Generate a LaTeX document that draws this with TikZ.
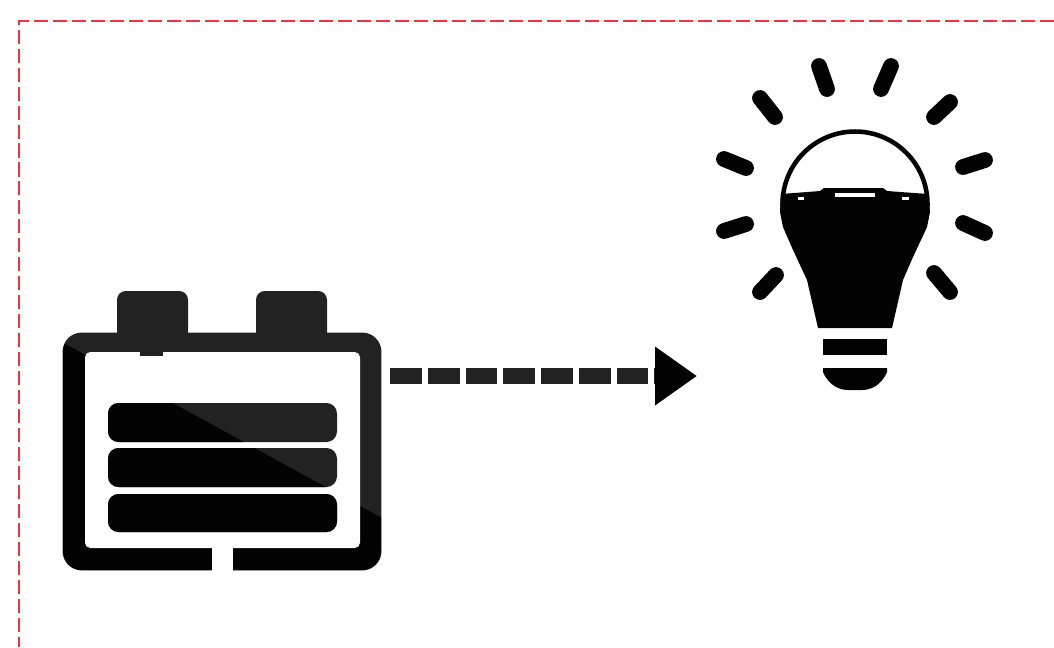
\documentclass[tikz,border=0pt]{standalone}
\usepackage{xcolor}
\usetikzlibrary{
  arrows.meta,
  positioning
}
\definecolor{inkblack}{RGB}{3,3,3}
\definecolor{inkgrey}{RGB}{34,34,34}
\definecolor{framered}{RGB}{240,50,65}

\begin{document}
\begin{tikzpicture}[
  x=0.02cm, y=-0.02cm,
  framebox/.style={draw=framered, line width=1.6pt, dash pattern=on 8pt off 2.8pt},
  battbody/.style={
    rectangle, rounded corners=11pt, fill=inkgrey,
    minimum width=6.38cm, minimum height=4.76cm, inner sep=0pt, outer sep=0pt
  },
  cellbar/.style={rounded corners=6pt},
  rayline/.style={line width=9pt, line cap=round, draw=inkblack},
  flowline/.style={
    draw=inkgrey, line width=9pt, dash pattern=on 18.1pt off 3.4pt,
    -{Triangle[length=0.84cm, width=1.12cm, inkblack]}
  }
]
  \useasboundingbox (0,0) rectangle (1054,647);

  % Outer frame
  \draw[framebox] (1054,21) -- (19,21) -- (19,647);

  % Battery
  \fill[inkgrey, rounded corners=5pt] (117,345) |- (188,291) |- cycle;
  \fill[inkgrey, rounded corners=5pt] (256,345) |- (327,291) |- cycle;
  \node[battbody] (batt) at (222,451.5) {};
  % Darker part below the gloss line
  \begin{scope}
    \clip (60,341) -- (382,518) -- (382,575) -- (60,575) -- cycle;
    \fill[inkblack, rounded corners=11pt] (63,333) rectangle (381,570);
  \end{scope}
  \fill[white, rounded corners=3pt] (85,352) rectangle (360,548);
  \fill[inkgrey] (140,350) rectangle (163,356);
  \foreach \top/\bot in {403/442, 448/487, 494/532}{
    \fill[inkgrey, cellbar] (108,\top) rectangle (337,\bot);
  }
  \begin{scope}
    \clip (60,341) -- (382,518) -- (382,575) -- (60,575) -- cycle;
    \foreach \top/\bot in {403/442, 448/487, 494/532}{
      \fill[inkblack, cellbar] (108,\top) rectangle (337,\bot);
    }
  \end{scope}
  \fill[white] (212,540) rectangle (233,575);

  % Bulb
  \node[circle, draw=inkblack, line width=2.6pt, minimum size=2.9cm, inner sep=0pt]
    (bulb) at (855,204) {};
  \fill[inkblack]
    (781,194) -- (820,191) -- (824,188) -- (883,188) -- (887,191) -- (928,194)
    -- (930,212) -- (927,227) -- (913,257) -- (903,280) -- (892,328)
    -- (818,328) -- (807,280) -- (793,250) -- (783,227) -- (780,212) -- cycle;
  \fill[white] (835,193) rectangle (875,197);
  \fill[white] (798,197) rectangle (804,200);
  \fill[white] (902,197) rectangle (909,200);
  \fill[inkblack] (823,339) rectangle (887,355);
  \fill[inkblack] (823,368) -- (887,368) -- (887,372)
    .. controls (881,386) and (870,390) .. (862,390)
    -- (848,390) .. controls (840,390) and (829,386) .. (823,372) -- cycle;

  % Rays around the bulb
  \foreach \xa/\ya/\xb/\yb in {
    819/66/827/89,
    891/66/881/89,
    950/102/934/117,
    760/98/775/117,
    724/159/746/168,
    985/160/963/167,
    724/231/746/224,
    985/233/963/223,
    760/292/776/275,
    950/292/934/273
  }{
    \draw[rayline] (\xa,\ya) -- (\xb,\yb);
  }

  % Dashed flow arrow
  \coordinate (flowstart) at (390,376);
  \coordinate (flowend) at (697,376);
  \draw[flowline] (flowstart) -- (flowend);
\end{tikzpicture}
\end{document}
